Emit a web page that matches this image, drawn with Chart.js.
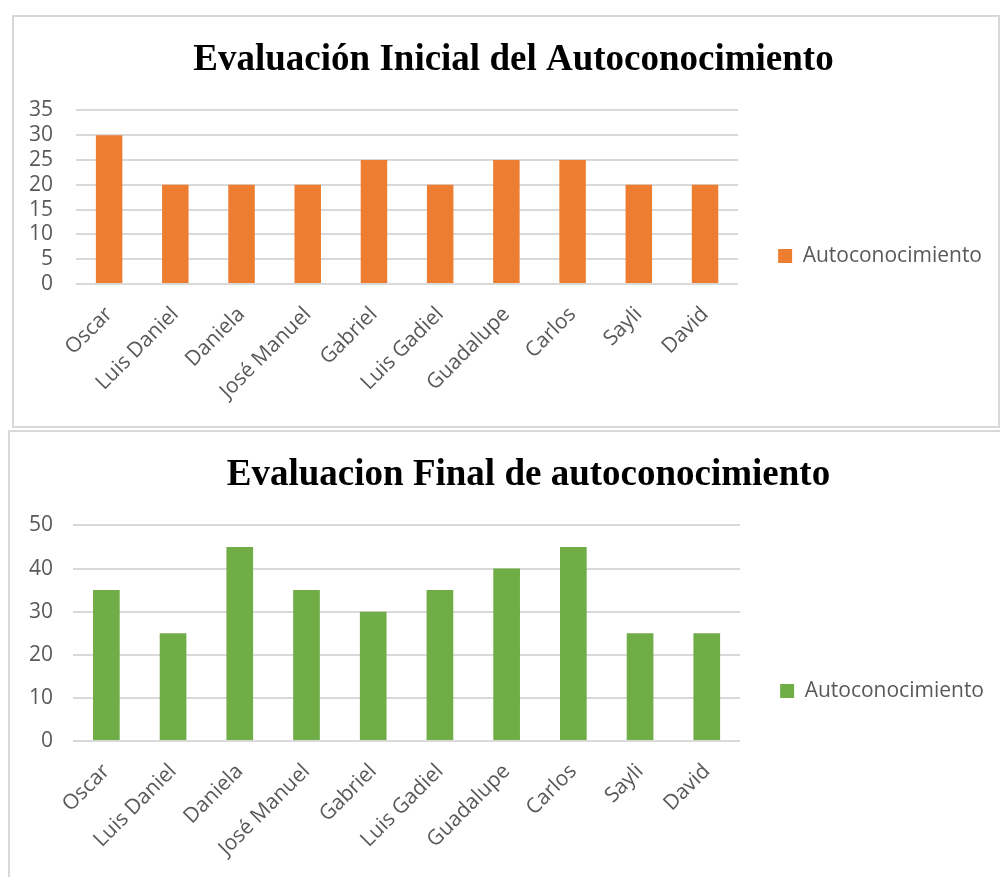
<!DOCTYPE html>
<html>
<head>
<meta charset="utf-8">
<script src="https://cdn.jsdelivr.net/npm/chart.js@4.4.1/dist/chart.umd.min.js"></script>
<style>
  html, body { margin: 0; padding: 0; background: #fff; overflow: hidden; }
  .box { position: absolute; border: 2px solid #d9d9d9; background: #fff; box-sizing: border-box; overflow: hidden; }
  #boxTop { left: 12px; top: 15px; width: 988px; height: 413px; }
  #boxBottom { left: 8px; top: 430px; width: 1000px; height: 460px; border-right: none; border-bottom: none; }
  .box canvas { position: absolute; left: 0; top: 0; }
</style>
</head>
<body>
<div class="box" id="boxTop"><canvas id="chartInicial" width="1010" height="409"></canvas></div>
<div class="box" id="boxBottom"><canvas id="chartFinal" width="1020" height="447"></canvas></div>
<script>
const alumnos = ['Oscar', 'Luis Daniel', 'Daniela', 'José Manuel', 'Gabriel', 'Luis Gadiel', 'Guadalupe', 'Carlos', 'Sayli', 'David'];
const inicial = [30, 20, 20, 20, 25, 20, 25, 25, 20, 20];
const final = [35, 25, 45, 35, 30, 35, 40, 45, 25, 25];
const serie = 'Autoconocimiento';

const fontFam = '"Open Sans", "Noto Sans", sans-serif';
const labelFont = { family: fontFam, size: 21 };
const gris = '#595959';

// nudges the title sideways, Excel centres it a bit off the plot
const titleShift = {
    id: 'titleShift',
    afterLayout(chart, args, opts) {
        const t = chart.titleBlock;
        if (t) { t.left += opts.dx; t.right += opts.dx; }
    }
};

function makeChart(id, title, data, color, yMax, yStep, lay) {
    const ctx = document.getElementById(id).getContext('2d');
    return new Chart(ctx, {
        type: 'bar',
        data: {
            labels: alumnos,
            datasets: [{
                label: serie,
                data: data,
                backgroundColor: color,
                borderWidth: 0,
                barPercentage: 0.4,
                categoryPercentage: 1
            }]
        },
        plugins: [titleShift],
        options: {
            responsive: false,
            animation: false,
            layout: { padding: lay.pad },
            plugins: {
                titleShift: { dx: lay.titleDx },
                title: {
                    display: true,
                    text: title,
                    color: '#000',
                    font: { family: '"Liberation Serif", "Times New Roman", serif', size: 37, weight: 'bold' },
                    padding: { top: 21, bottom: 28 }
                },
                legend: {
                    position: 'right',
                    maxWidth: 400,
                    title: { display: true, text: '', font: { size: 1, lineHeight: 1 }, padding: { top: lay.legendDrop, bottom: 0 } },
                    labels: {
                        color: gris,
                        font: labelFont,
                        boxWidth: 14,
                        boxHeight: 14,
                        padding: lay.legendGap
                    }
                },
                tooltip: { enabled: false }
            },
            scales: {
                x: {
                    grid: { display: false, drawTicks: false },
                    border: { display: false },
                    ticks: { color: gris, font: labelFont, maxRotation: 45, minRotation: 45, padding: 18, autoSkip: false }
                },
                y: {
                    min: 0,
                    max: yMax,
                    afterFit: s => { s.width = lay.yWidth; },
                    grid: { color: '#d9d9d9', lineWidth: 2, drawTicks: false },
                    border: { display: false },
                    ticks: { stepSize: yStep, color: gris, font: { family: fontFam, size: 21, lineHeight: 1 }, padding: lay.tickPad }
                }
            }
        }
    });
}

makeChart('chartInicial', 'Evaluación Inicial del Autoconocimiento', inicial, '#ED7D31', 35, 5,
    { pad: { left: 14, right: 32, bottom: 4 }, legendGap: 40, legendDrop: 72, yWidth: 48, tickPad: 23, titleDx: 3.5 });
makeChart('chartFinal', 'Evaluacion Final de autoconocimiento', final, '#70AD47', 50, 10,
    { pad: { left: 16, right: 36, bottom: 0 }, legendGap: 40, legendDrop: 70, yWidth: 47, tickPad: 20, titleDx: 18.5 });
</script>
</body>
</html>
